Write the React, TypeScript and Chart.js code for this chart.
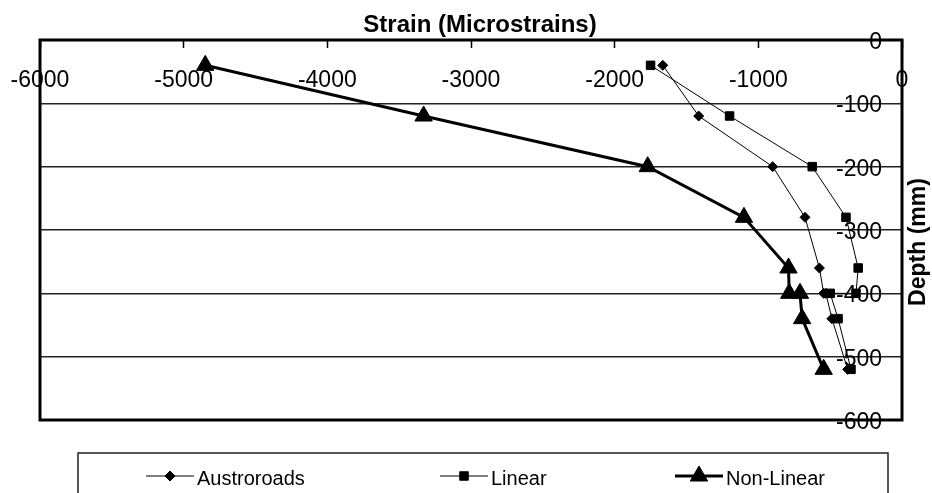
import React, { useEffect, useRef } from "react";
import { Chart, registerables } from "chart.js";
import { drawPoint } from "chart.js/helpers";

Chart.register(...registerables);

// ---- data ----
const depths = [-40, -120, -200, -280, -360, -400, -400, -440, -520];
const austroroads = [-1665, -1415, -900, -675, -575, -545, -530, -488, -378];
const linear = [-1750, -1200, -625, -390, -305, -320, -500, -445, -355];
const nonLinear = [-4850, -3330, -1770, -1100, -790, -785, -710, -695, -545];
const seriesLabels = ["Austroroads", "Linear", "Non-Linear"];
const xTicks = [-6000, -5000, -4000, -3000, -2000, -1000, 0];
const yTicks = [0, -100, -200, -300, -400, -500, -600];
const xTitle = "Strain (Microstrains)";
const yTitle = "Depth (mm)";

const FONT = '"Liberation Sans", Arial, Helvetica, sans-serif';

const toPoints = (xs: number[]) => xs.map((x, i) => ({ x, y: depths[i] }));

const decorPlugin = {
  id: "decor",
  beforeDatasetsDraw(chart: any) {
    const { ctx, chartArea: a } = chart;
    ctx.save();
    ctx.strokeStyle = "#000";
    ctx.lineWidth = 3;
    ctx.strokeRect(a.left, a.top, a.right - a.left, a.bottom - a.top);
    ctx.restore();
  },
  afterDraw(chart: any) {
    const { ctx, chartArea: a } = chart;
    ctx.save();
    ctx.fillStyle = "#000";
    ctx.textAlign = "center";
    ctx.textBaseline = "middle";
    ctx.font = `bold 24px ${FONT}`;
    ctx.fillText(xTitle, (a.left + a.right) / 2 + 9, 25);

    ctx.save();
    ctx.translate(919, (a.top + a.bottom) / 2 + 12);
    ctx.rotate(-Math.PI / 2);
    ctx.font = `bold 23px ${FONT}`;
    ctx.fillText(yTitle, 0, 0);
    ctx.restore();

    // legend box
    ctx.lineWidth = 1.5;
    ctx.strokeStyle = "#222";
    ctx.strokeRect(78, 453, 810, 60);

    const starts = [146, 440, 675];
    chart.data.datasets.forEach((ds: any, i: number) => {
      const x0 = starts[i];
      const y = 476;
      ctx.strokeStyle = "#000";
      ctx.fillStyle = "#000";
      ctx.lineWidth = ds.borderWidth;
      ctx.beginPath();
      ctx.moveTo(x0, y);
      ctx.lineTo(x0 + 48, y);
      ctx.stroke();
      ctx.lineWidth = 1;
      drawPoint(
        ctx,
        { pointStyle: ds.pointStyle, radius: ds.pointRadius, borderWidth: 1, rotation: 0 } as any,
        x0 + 24,
        y
      );
      ctx.font = `20px ${FONT}`;
      ctx.textAlign = "left";
      ctx.textBaseline = "middle";
      ctx.fillText(ds.label, x0 + 51, 479);
    });
    ctx.restore();
  },
};

export default function App() {
  const ref = useRef<HTMLCanvasElement>(null);

  useEffect(() => {
    if (!ref.current) return;
    const chart = new Chart(ref.current, {
      type: "scatter",
      data: {
        datasets: [
          {
            label: seriesLabels[0],
            data: toPoints(austroroads),
            showLine: true,
            borderColor: "#000",
            backgroundColor: "#000",
            borderWidth: 1,
            pointStyle: "rectRot",
            pointRadius: 5,
            pointBackgroundColor: "#000",
            pointBorderColor: "#000",
            pointBorderWidth: 1,
            tension: 0,
          },
          {
            label: seriesLabels[1],
            data: toPoints(linear),
            showLine: true,
            borderColor: "#000",
            backgroundColor: "#000",
            borderWidth: 1,
            pointStyle: "rect",
            pointRadius: 6,
            pointBackgroundColor: "#000",
            pointBorderColor: "#000",
            pointBorderWidth: 1,
            tension: 0,
          },
          {
            label: seriesLabels[2],
            data: toPoints(nonLinear),
            showLine: true,
            borderColor: "#000",
            backgroundColor: "#000",
            borderWidth: 3,
            pointStyle: "triangle",
            pointRadius: 10,
            pointBackgroundColor: "#000",
            pointBorderColor: "#000",
            pointBorderWidth: 1,
            tension: 0,
          },
        ],
      },
      options: {
        responsive: false,
        animation: false,
        layout: { padding: { top: 30, left: 40, right: 0, bottom: 73 } },
        plugins: {
          legend: { display: false },
          tooltip: { enabled: false },
          title: { display: false },
        },
        scales: {
          x: {
            type: "linear",
            position: "top",
            min: -6000,
            max: 0,
            afterBuildTicks: (s: any) => {
              s.ticks = xTicks.map((v) => ({ value: v }));
            },
            afterFit: (s: any) => {
              s.height = 10;
              s.paddingLeft = 0;
              s.paddingRight = 0;
            },
            grid: {
              drawOnChartArea: false,
              drawTicks: true,
              tickLength: -8,
              tickColor: "#000",
              tickWidth: 1.5,
            },
            border: { display: false },
            ticks: {
              mirror: true,
              padding: 27,
              color: "#000",
              font: { family: FONT, size: 23, lineHeight: 1.2 },
              maxRotation: 0,
              minRotation: 0,
              autoSkip: false,
              callback: (v: any) => String(v),
            },
          },
          y: {
            type: "linear",
            position: "right",
            min: -600,
            max: 0,
            afterBuildTicks: (s: any) => {
              s.ticks = yTicks.map((v) => ({ value: v }));
            },
            afterFit: (s: any) => {
              s.width = 30;
              s.paddingTop = 0;
              s.paddingBottom = 0;
            },
            grid: { color: "#222", lineWidth: 1.5, drawTicks: false },
            border: { display: false },
            ticks: {
              mirror: true,
              crossAlign: "near",
              padding: -20,
              labelOffset: 2.5,
              color: "#000",
              font: { family: FONT, size: 23, lineHeight: 1.2 },
              autoSkip: false,
              callback: (v: any) => String(v),
            },
          },
        },
      },
      plugins: [decorPlugin],
    } as any);
    return () => chart.destroy();
  }, []);

  return (
    <div
      style={{
        position: "absolute",
        left: 0,
        top: 0,
        width: 932,
        height: 493,
        background: "#fff",
        overflow: "hidden",
      }}
    >
      <canvas ref={ref} width={932} height={493} style={{ display: "block" }} />
    </div>
  );
}
